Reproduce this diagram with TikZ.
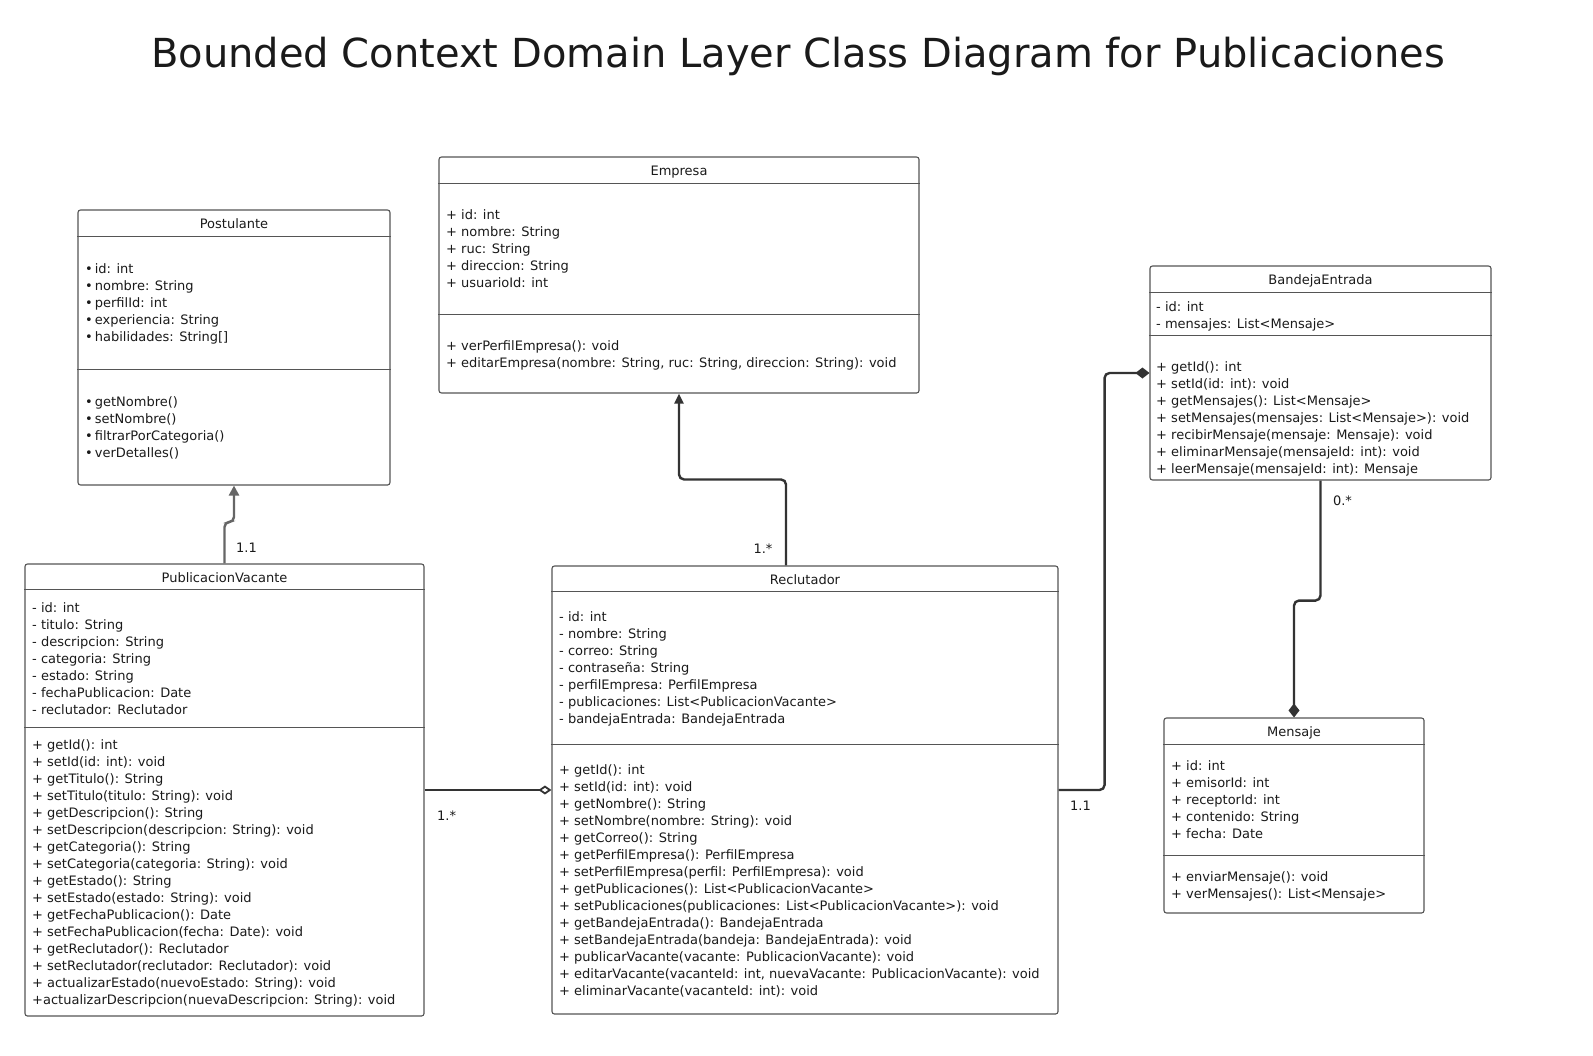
\documentclass[tikz,border=0pt]{standalone}
\usepackage{fontspec}
\setmainfont{DejaVu Sans}
\usetikzlibrary{arrows.meta, fit, calc}
\definecolor{boxline}{HTML}{555555}
\definecolor{linkc}{HTML}{333333}
\definecolor{ink}{HTML}{1A1A1A}

\begin{document}
\begin{tikzpicture}[x=1pt, y=-1pt,
    classbox/.style={draw=boxline, line width=1.1pt, rounded corners=2.5pt, inner sep=0pt},
    rule/.style={draw=boxline, line width=0.9pt},
    member/.style={anchor=base west, inner sep=0pt, text=ink, font=\fontsize{13}{17}\selectfont},
    ctitle/.style={anchor=base, inner sep=0pt, text=ink, font=\fontsize{13}{17}\selectfont},
    mult/.style={inner sep=0pt, text=ink, font=\fontsize{13}{17}\selectfont},
    link/.style={draw=linkc, line width=2.4pt, rounded corners=5pt}]
    \useasboundingbox (0,0) rectangle (1593,1055);
    \fill[white] (0,0) rectangle (1593,1055);
    \node[anchor=base, inner sep=0pt, text=ink, font=\fontsize{40}{46}\selectfont] (title) at (798,67)
        {Bounded Context Domain Layer Class Diagram for Publicaciones};

    % Postulante
    \node[classbox, fit={(78,210) (390,485)}] (post) {};
    \draw[rule] (post.west |- 0,236) -- (post.east |- 0,236);
    \draw[rule] (post.west |- 0,369) -- (post.east |- 0,369);
    \node[ctitle] (postname) at (post.north |- 0,228) {Postulante};
    \foreach \t [count=\i] in {{id: int}, {nombre: String}, {perfilId: int}, {experiencia: String}, {habilidades: String[]}}
        \node[member] (pa\i) at (85,{256+17*\i}) {\textbullet\hspace{2pt}\t};
    \foreach \t [count=\i] in {{getNombre()}, {setNombre()}, {filtrarPorCategoria()}, {verDetalles()}}
        \node[member] (pm\i) at (85,{389+17*\i}) {\textbullet\hspace{2pt}\t};

    % Empresa
    \node[classbox, fit={(439,157) (919,393)}] (emp) {};
    \draw[rule] (emp.west |- 0,183) -- (emp.east |- 0,183);
    \draw[rule] (emp.west |- 0,314) -- (emp.east |- 0,314);
    \node[ctitle] (empname) at (emp.north |- 0,175) {Empresa};
    \foreach \t [count=\i] in {{+ id: int}, {+ nombre: String}, {+ ruc: String}, {+ direccion: String}, {+ usuarioId: int}}
        \node[member] (ea\i) at (446,{202+17*\i}) {\t};
    \foreach \t [count=\i] in {{+ verPerfilEmpresa(): void}, {+ editarEmpresa(nombre: String, ruc: String, direccion: String): void}}
        \node[member] (em\i) at (446,{333+17*\i}) {\t};

    % BandejaEntrada
    \node[classbox, fit={(1150,266) (1491,480)}] (ban) {};
    \draw[rule] (ban.west |- 0,292) -- (ban.east |- 0,292);
    \draw[rule] (ban.west |- 0,335) -- (ban.east |- 0,335);
    \node[ctitle] (banname) at (ban.north |- 0,284) {BandejaEntrada};
    \foreach \t [count=\i] in {{- id: int}, {- mensajes: List<Mensaje>}}
        \node[member] (ba\i) at (1156,{294+17*\i}) {\t};
    \foreach \t [count=\i] in {{+ getId(): int}, {+ setId(id: int): void}, {+ getMensajes(): List<Mensaje>},
        {+ setMensajes(mensajes: List<Mensaje>): void}, {+ recibirMensaje(mensaje: Mensaje): void},
        {+ eliminarMensaje(mensajeId: int): void}, {+ leerMensaje(mensajeId: int): Mensaje}}
        \node[member] (bm\i) at (1156,{354+17*\i}) {\t};

    % PublicacionVacante
    \node[classbox, fit={(25,564) (424,1016)}] (pv) {};
    \draw[rule] (pv.west |- 0,589) -- (pv.east |- 0,589);
    \draw[rule] (pv.west |- 0,727) -- (pv.east |- 0,727);
    \node[ctitle] (pvname) at (pv.north |- 0,582) {PublicacionVacante};
    \foreach \t [count=\i] in {{- id: int}, {- titulo: String}, {- descripcion: String}, {- categoria: String},
        {- estado: String}, {- fechaPublicacion: Date}, {- reclutador: Reclutador}}
        \node[member] (va\i) at (32,{595+17*\i}) {\t};
    \foreach \t [count=\i] in {{+ getId(): int}, {+ setId(id: int): void}, {+ getTitulo(): String},
        {+ setTitulo(titulo: String): void}, {+ getDescripcion(): String},
        {+ setDescripcion(descripcion: String): void}, {+ getCategoria(): String},
        {+ setCategoria(categoria: String): void}, {+ getEstado(): String},
        {+ setEstado(estado: String): void}, {+ getFechaPublicacion(): Date},
        {+ setFechaPublicacion(fecha: Date): void}, {+ getReclutador(): Reclutador},
        {+ setReclutador(reclutador: Reclutador): void}, {+ actualizarEstado(nuevoEstado: String): void},
        {+actualizarDescripcion(nuevaDescripcion: String): void}}
        \node[member] (vm\i) at (32,{732+17*\i}) {\t};

    % Reclutador
    \node[classbox, fit={(552,566) (1058,1014)}] (rec) {};
    \draw[rule] (rec.west |- 0,591) -- (rec.east |- 0,591);
    \draw[rule] (rec.west |- 0,744) -- (rec.east |- 0,744);
    \node[ctitle] (recname) at (rec.north |- 0,584) {Reclutador};
    \foreach \t [count=\i] in {{- id: int}, {- nombre: String}, {- correo: String}, {- contraseña: String},
        {- perfilEmpresa: PerfilEmpresa}, {- publicaciones: List<PublicacionVacante>},
        {- bandejaEntrada: BandejaEntrada}}
        \node[member] (ra\i) at (559,{604+17*\i}) {\t};
    \foreach \t [count=\i] in {{+ getId(): int}, {+ setId(id: int): void}, {+ getNombre(): String},
        {+ setNombre(nombre: String): void}, {+ getCorreo(): String},
        {+ getPerfilEmpresa(): PerfilEmpresa}, {+ setPerfilEmpresa(perfil: PerfilEmpresa): void},
        {+ getPublicaciones(): List<PublicacionVacante>},
        {+ setPublicaciones(publicaciones: List<PublicacionVacante>): void},
        {+ getBandejaEntrada(): BandejaEntrada}, {+ setBandejaEntrada(bandeja: BandejaEntrada): void},
        {+ publicarVacante(vacante: PublicacionVacante): void},
        {+ editarVacante(vacanteId: int, nuevaVacante: PublicacionVacante): void},
        {+ eliminarVacante(vacanteId: int): void}}
        \node[member] (rm\i) at (559,{757+17*\i}) {\t};

    % Mensaje
    \node[classbox, fit={(1164,718) (1424,913)}] (men) {};
    \draw[rule] (men.west |- 0,744) -- (men.east |- 0,744);
    \draw[rule] (men.west |- 0,855) -- (men.east |- 0,855);
    \node[ctitle] (menname) at (men.north |- 0,736) {Mensaje};
    \foreach \t [count=\i] in {{+ id: int}, {+ emisorId: int}, {+ receptorId: int}, {+ contenido: String}, {+ fecha: Date}}
        \node[member] (ma\i) at (1171,{753+17*\i}) {\t};
    \foreach \t [count=\i] in {{+ enviarMensaje(): void}, {+ verMensajes(): List<Mensaje>}}
        \node[member] (mm\i) at (1171,{864+17*\i}) {\t};

    % connectors
    \draw[link, draw=boxline!90, -{Triangle[length=10pt, width=10pt]}] (pv.north) -- (224.5,522) -| (post.south);
    \draw[link, -{Triangle[length=10pt, width=9pt]}] ([xshift=-19pt]rec.north) -- ++(0,-86) -| (emp.south);
    \draw[link, -{Diamond[open, length=13pt, width=9pt, line width=1.8pt]}] (pv.east) -- (rec.west);
    \draw[link, -{Diamond[length=14pt, width=11pt]}] (rec.east) -- ++(46,0) |- (ban.west);
    \draw[link, -{Diamond[length=14pt, width=11pt]}] (ban.south) -- ++(0,120) -| (men.north);

    \node[mult] (k1) at ([shift={(22,-16)}]pv.north) {1.1};
    \node[mult] (k2) at ([shift={(-42,-17)}]rec.north) {1.*};
    \node[mult] (k3) at ([shift={(22,26)}]pv.east) {1.*};
    \node[mult] (k4) at ([shift={(22,16)}]rec.east) {1.1};
    \node[mult] (k5) at ([shift={(22,20)}]ban.south) {0.*};
\end{tikzpicture}
\end{document}
